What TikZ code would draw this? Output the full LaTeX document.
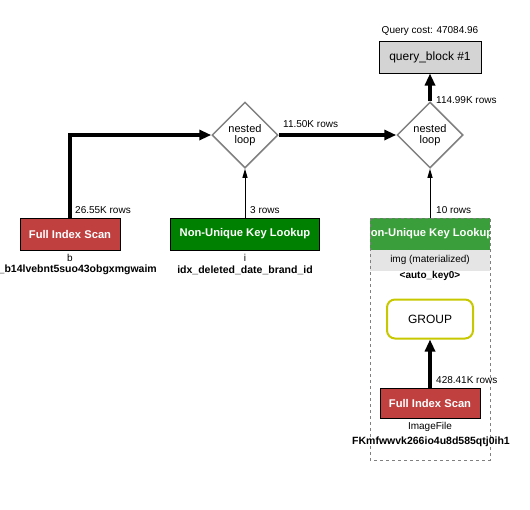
\documentclass[tikz,border=0pt]{standalone}
\usepackage{fontspec}
\setmainfont{Liberation Sans}
\usetikzlibrary{shapes.geometric,arrows.meta}

\definecolor{scanred}{RGB}{192,64,64}
\definecolor{lookgreen}{RGB}{0,128,0}
\definecolor{matgreen}{RGB}{58,158,58}
\definecolor{groupyellow}{RGB}{200,200,0}

\tikzset{
  loopnode/.style={diamond, draw=gray, line width=1.5pt, aspect=1, minimum width=66pt, minimum height=66pt, inner sep=0pt, align=center, font=\fontsize{11}{11}\selectfont},
  opbox/.style={rectangle, draw=black, line width=1pt, minimum height=32pt, text=white, font=\fontsize{11.2}{13}\selectfont\bfseries},
  rowlabel/.style={anchor=west, inner sep=0pt, font=\fontsize{10}{12}\selectfont},
  tbllabel/.style={inner sep=0pt, font=\fontsize{10}{12}\selectfont},
  keylabel/.style={inner sep=0pt, font=\fontsize{10.5}{12}\selectfont\bfseries},
  fatflow/.style={line width=3.5pt, -{Triangle[length=12pt, width=10pt]}},
  thinflow/.style={line width=1pt, -{Triangle[length=9pt, width=5pt]}}
}

\begin{document}
\begin{tikzpicture}[x=1pt, y=-1pt]
\useasboundingbox (0,0) rectangle (530,509);

% query block
\node[tbllabel] (qcost) at (430,31) {Query cost: 47084.96};
\node[rectangle, draw=black, line width=1pt, fill=black!17, minimum width=102pt, minimum height=32pt, font=\fontsize{12}{14}\selectfont] (qblock) at (430,57) {query\_block \#1};

% joins
\node[loopnode] (loop1) at (245,135) {nested\\loop};
\node[loopnode] (loop2) at (430,135) {nested\\loop};

% table b
\node[opbox, fill=scanred, minimum width=100pt] (scanb) at (70,234) {Full Index Scan};
\node[tbllabel] (tblb) at (70,258) {b};
\node[keylabel, anchor=east] (keyb) at (157,270) {\_b14lvebnt5suo43obgxmgwaim};

% table i
\node[opbox, fill=lookgreen, minimum width=149pt] (lookupi) at (245,234) {Non-Unique Key Lookup};
\node[tbllabel] (tbli) at (245,258) {i};
\node[keylabel] (keyi) at (245,270) {idx\_deleted\_date\_brand\_id};

% materialized img
\fill[matgreen] (370,218) rectangle (490,250);
\fill[black!10] (370,250) rectangle (490,271);
\begin{scope}
  \clip (370,218) rectangle (490,250);
  \node[font=\fontsize{11.2}{13}\selectfont\bfseries, text=white, inner sep=0pt] (lookupimg) at (428,234) {Non-Unique Key Lookup};
\end{scope}
\draw[gray, dashed, line width=1pt] (370,218) rectangle (490,460);
\coordinate (matTop) at (430,218);
\node[tbllabel] (tblimg) at (430,260) {img (materialized)};
\node[keylabel, font=\fontsize{10}{12}\selectfont\bfseries] (keyimg) at (430,276) {<auto\_key0>};
\node[rectangle, rounded corners=8pt, draw=groupyellow, line width=2pt, minimum width=86pt, minimum height=39pt, font=\fontsize{12}{14}\selectfont] (group) at (430,319) {GROUP};
\node[opbox, fill=scanred, minimum width=100pt, minimum height=30pt] (scanimg) at (430,403) {Full Index Scan};
\node[tbllabel] (tblfile) at (430,427) {ImageFile};
\node[keylabel] (keyfile) at (431,442) {FKmfwwvk266io4u8d585qtj0ih1};

% flows
\draw[fatflow] (scanb.north) -- (70,135) -- (loop1.west);
\draw[thinflow] (lookupi.north) -- (loop1.south);
\draw[fatflow] (loop1.east) -- (loop2.west);
\draw[thinflow] (matTop) -- (loop2.south);
\draw[fatflow] (loop2.north) -- (qblock.south);
\draw[fatflow] (scanimg.north) -- (group.south);

% row counts
\node[rowlabel] at (75,210) {26.55K rows};
\node[rowlabel] at (250,210) {3 rows};
\node[rowlabel] at (283,124) {11.50K rows};
\node[rowlabel] at (436,210) {10 rows};
\node[rowlabel] at (436,100) {114.99K rows};
\node[rowlabel] at (436,380) {428.41K rows};
\end{tikzpicture}
\end{document}
